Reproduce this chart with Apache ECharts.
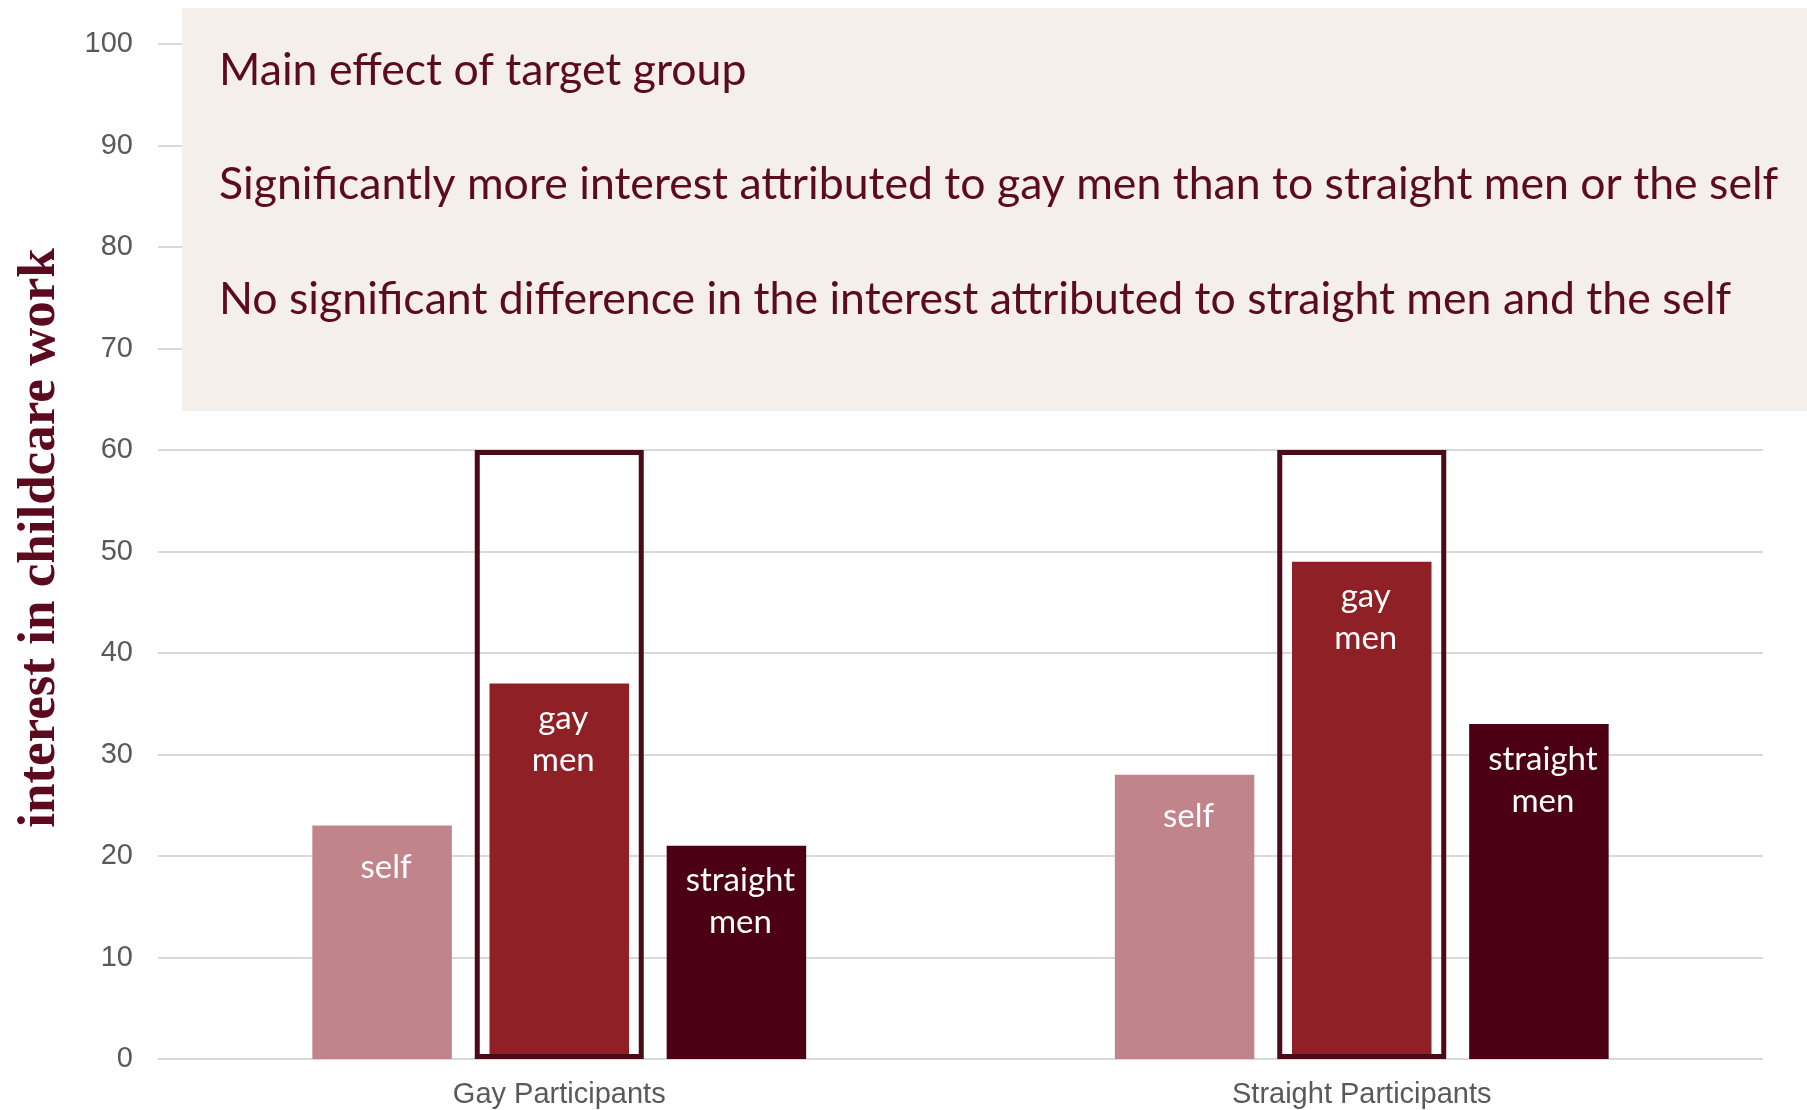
<!DOCTYPE html>
<html><head><meta charset="utf-8">
<script src="https://cdn.jsdelivr.net/npm/echarts@6/dist/echarts.min.js"></script>
<style>html,body{margin:0;padding:0;background:#fff}#c{width:1807px;height:1110px}</style>
</head><body><div id="c"></div>
<script>
const categories = ['Gay Participants', 'Straight Participants'];
const seriesNames = ['self', 'gay men', 'straight men'];
const barLabels = ['self', 'gay\nmen', 'straight\nmen'];
const selfValues = [23, 28];
const gayMenValues = [37, 49];
const straightMenValues = [21, 33];
const highlightBoxValues = [60, 60];
const yMin = 0, yMax = 100, yInterval = 10;
const yAxisTitle = 'interest in childcare work';
const panelLines = [
  'Main effect of target group',
  'Significantly more interest attributed to gay men than to straight men or the self',
  'No significant difference in the interest attributed to straight men and the self'
];

const barColors = ['#C1848B', '#8F2026', '#4B0013'];
const labelDistances = [21, 14, 14];
const seriesData = [selfValues, gayMenValues, straightMenValues];

const chart = echarts.init(document.getElementById('c'));
const series = seriesData.map((d, i) => ({
  name: seriesNames[i],
  type: 'bar',
  xAxisIndex: 0,
  data: d,
  barWidth: 139.5,
  barGap: '27%',
  itemStyle: { color: barColors[i] },
  label: {
    show: true, position: 'insideTop', distance: labelDistances[i], offset: [4, 0],
    formatter: barLabels[i], color: '#ffffff',
    fontFamily: 'Lato', fontSize: 33, lineHeight: 42
  }
}));
series.push({
  type: 'bar', xAxisIndex: 1, data: highlightBoxValues, barWidth: 169, z: 5, silent: true,
  itemStyle: { color: 'rgba(0,0,0,0)', borderColor: '#4A0A17', borderWidth: 5 }
});

const panelTextYs = [70.5, 185, 300];
const graphic = [
  { type: 'rect', z: 100, shape: { x: 182, y: 8, width: 1625, height: 403 }, style: { fill: '#F4EFEB' } }
].concat(panelLines.map((t, i) => ({
  type: 'text', z: 101, x: 219, y: panelTextYs[i],
  style: { text: t, fill: '#5C0A1E', fontFamily: 'Lato', fontSize: 44.6, verticalAlign: 'middle', align: 'left' }
}))).concat([{
  type: 'text', z: 101, x: 40, y: 538, rotation: Math.PI / 2,
  style: { text: yAxisTitle, fill: '#5C0A1E', fontFamily: 'Liberation Serif', fontWeight: 'bold', fontSize: 53, align: 'center', verticalAlign: 'middle' }
}]);

chart.setOption({
  animation: false,
  grid: { left: 158, right: 44, top: 44, bottom: 51 },
  xAxis: [
    { type: 'category', data: categories, axisLine: { show: false }, axisTick: { show: false },
      axisLabel: { color: '#595959', fontSize: 29, fontFamily: 'Liberation Sans', margin: 21 } },
    { type: 'category', data: categories, show: false }
  ],
  yAxis: {
    type: 'value', min: yMin, max: yMax, interval: yInterval,
    axisLine: { show: false }, axisTick: { show: false },
    axisLabel: { color: '#595959', fontSize: 29, fontFamily: 'Liberation Sans', margin: 25 },
    splitLine: { lineStyle: { color: '#D9D9D9', width: 2 } }
  },
  series: series,
  graphic: graphic
});
</script></body></html>
